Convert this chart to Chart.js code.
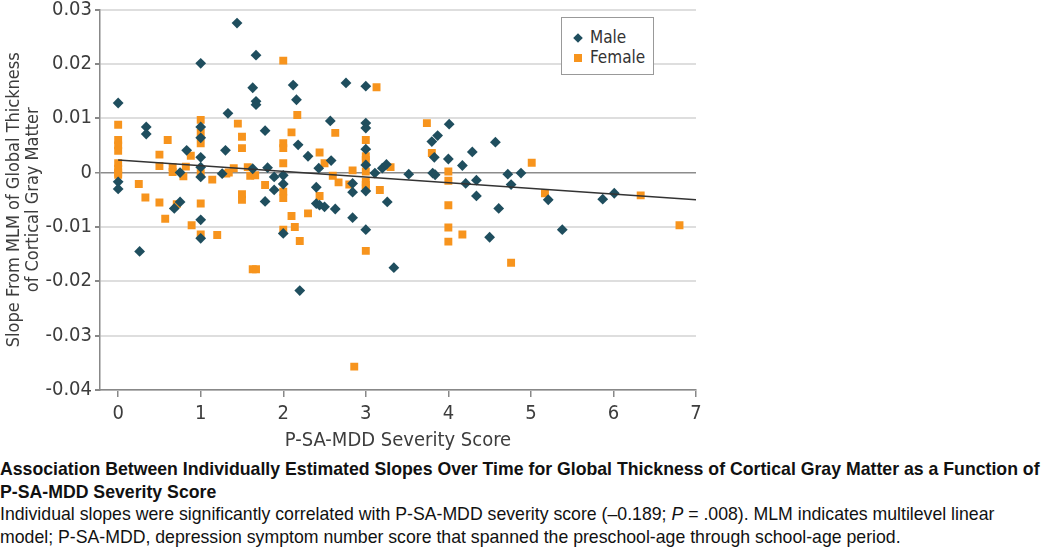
<!DOCTYPE html>
<html>
<head>
<meta charset="utf-8">
<script src="https://cdn.jsdelivr.net/npm/chart.js@4.4.1/dist/chart.umd.min.js"></script>
<style>
body{margin:0;background:#fff;width:1050px;height:551px;overflow:hidden;position:relative;}
#wrap{position:absolute;left:0;top:-2px;width:720px;height:455px;}
#legend{position:absolute;left:561px;top:17px;width:91px;height:56px;border:1.5px solid #999;background:#fff;
  font-family:'DejaVu Sans Condensed','DejaVu Sans',sans-serif;font-size:17px;color:#333;}
.item{position:absolute;left:12px;height:20px;line-height:20px;white-space:nowrap;}
.mk{display:inline-block;width:8px;height:8px;margin-right:8px;vertical-align:1px;}
.cap{position:absolute;left:0;top:458px;width:1050px;font-family:'Liberation Sans',Arial,sans-serif;
  font-size:17.7px;line-height:22.5px;color:#111;white-space:nowrap;}
</style>
</head>
<body>
<div id="wrap"><canvas id="chart"></canvas></div>
<div id="legend"></div>
<div class="cap"><b>Association Between Individually Estimated Slopes Over Time for Global Thickness of Cortical Gray Matter as a Function of<br>P-SA-MDD Severity Score</b><br>Individual slopes were significantly correlated with P-SA-MDD severity score (–0.189; <i>P</i> = .008). MLM indicates multilevel linear<br>model; P-SA-MDD, depression symptom number score that spanned the preschool-age through school-age period.</div>
<script>
// values
const maleX=[0,0,0,0.26,0.34,0.34,0.68,0.75,0.75,0.83,
  1,1,1,1,1,1,1,1,1.26,1.30,1.33,1.44,1.63,1.63,1.67,1.67,1.67,1.78,1.78,1.81,1.89,1.89,
  2,2,2,2.12,2.16,2.18,2.20,2.30,2.40,2.40,2.43,2.44,2.50,2.57,2.58,2.63,2.76,2.84,2.84,2.84,
  3,3,3,3,3,3,3,3.11,3.20,3.25,3.26,3.34,3.52,3.80,3.87,3.83,3.81,3.84,
  4.01,4.0,4.17,4.21,4.29,4.34,4.34,4.57,4.50,4.61,4.72,4.76,4.88,5.21,5.38,5.87,6.01];
const maleY=[0.0128,-0.0017,-0.0030,-0.0145,0.0084,0.0071,-0.0066,-0.0054,0.0000,0.0041,
  0.0201,0.0084,0.0064,0.0028,0.0010,-0.0008,-0.0087,-0.0121,-0.0002,0.0041,0.0109,0.0275,0.0156,0.0007,0.0216,0.0131,0.0125,0.0077,-0.0053,0.0009,-0.0008,-0.0032,
  -0.0005,-0.0021,-0.0112,0.0161,0.0134,0.0051,-0.0217,0.0030,-0.0027,-0.0057,0.0008,-0.0060,-0.0063,0.0095,0.0022,-0.0067,0.0165,-0.0020,-0.0036,-0.0083,
  0.0159,0.0091,0.0082,0.0043,0.0014,-0.0034,-0.0105,-0.0001,0.0008,0.0015,-0.0054,-0.0175,-0.0003,0.0057,0.0068,0.0028,-0.0001,-0.0004,
  0.0089,0.0025,0.0013,-0.0020,0.0038,-0.0014,-0.0043,0.0056,-0.0119,-0.0066,-0.0003,-0.0022,-0.0001,-0.0050,-0.0105,-0.0049,-0.0038];
const femaleX=[0,0,0,0,0,0,0,0,0.25,0.33,0.50,0.50,0.50,0.57,0.60,0.66,0.66,0.71,0.79,0.82,0.88,0.89,
  1,1,1,1,1,1,1.14,1.20,1.31,1.34,1.40,1.45,1.50,1.50,1.50,1.50,1.57,1.60,1.66,1.63,1.67,1.78,
  2,2,2,2,2,2,2,2.10,2.17,2.10,2.14,2.20,2.30,2.44,2.44,2.50,2.60,2.63,2.67,2.80,2.84,2.86,
  3,3,3,3,3,3,3,3,3.13,3.17,3.30,3.74,3.80,4,4,4,4,4,4.17,4.76,5.01,5.17,6.33,6.80];
const femaleY=[0.0088,0.0060,0.0050,0.0040,0.0017,0.0007,0.0000,-0.0004,-0.0021,-0.0046,0.0033,0.0012,-0.0055,-0.0085,0.0060,0.0010,0.0001,-0.0058,-0.0007,0.0011,0.0031,-0.0097,
  0.0097,0.0073,0.0054,-0.0001,-0.0057,-0.0114,-0.0013,-0.0115,-0.0002,0.0000,0.0008,0.0090,0.0066,0.0045,-0.0040,-0.0050,0.0010,-0.0006,-0.0005,-0.0178,-0.0178,-0.0023,
  0.0206,0.0054,0.0045,0.0017,-0.0035,-0.0047,-0.0105,0.0074,0.0106,-0.0080,-0.0100,-0.0126,-0.0075,0.0037,-0.0043,0.0017,-0.0006,0.0073,-0.0018,-0.0022,0.0004,-0.0357,
  0.0060,0.0030,0.0023,0.0002,-0.0017,-0.0023,-0.0029,-0.0144,0.0157,-0.0032,0.0010,0.0091,0.0036,0.0002,-0.0015,-0.0060,-0.0101,-0.0127,-0.0114,-0.0166,0.0018,-0.0038,-0.0042,-0.0097];
const fitX=[0,7];
const fitY=[0.0023,-0.0050];
const seriesNames=['Male','Female'];
const seriesColors=['#1f4e5e','#f7941d'];
const xTicks=[0,1,2,3,4,5,6,7];
const yTicks=[0.03,0.02,0.01,0,-0.01,-0.02,-0.03,-0.04];
const yTickLabels=['0.03','0.02','0.01','0','-0.01','-0.02','-0.03','-0.04'];

const pts=(xs,ys)=>xs.map((x,i)=>({x:x,y:ys[i]}));

document.getElementById('legend').innerHTML=seriesNames.map((n,i)=>
  '<div class="item" style="top:'+(9+i*20)+'px"><span class="mk" style="background:'+seriesColors[i]+
  (i==0?';transform:rotate(45deg) scale(0.85)':'')+'"></span>'+n+'</div>').join('');

Chart.defaults.font.family="'DejaVu Sans Condensed','DejaVu Sans',sans-serif";
Chart.defaults.color='#3d3d3d';

const ctx=document.getElementById('chart').getContext('2d');
let chart=new Chart(ctx,{
  type:'scatter',
  data:{
    datasets:[
      {label:'fit',data:pts(fitX,fitY),showLine:true,pointRadius:0,borderColor:'#333',borderWidth:1.5,order:0},
      {label:seriesNames[0],data:pts(maleX,maleY),pointStyle:'rectRot',pointRadius:5.4,
        backgroundColor:seriesColors[0],borderWidth:0,order:1},
      {label:seriesNames[1],data:pts(femaleX,femaleY),pointStyle:'rect',pointRadius:5.6,
        backgroundColor:seriesColors[1],borderWidth:0,order:2}
    ]
  },
  options:{
    responsive:true,
    maintainAspectRatio:false,
    animation:false,
    layout:{padding:{top:0,right:24,left:0,bottom:0}},
    plugins:{legend:{display:false},tooltip:{enabled:false}},
    scales:{
      x:{
        type:'linear',min:-0.22,max:7,
        afterBuildTicks:s=>{s.ticks=xTicks.map(v=>({value:v}));},
        afterFit:s=>{s.height=63;},
        ticks:{font:{size:20},padding:5,callback:v=>String(v)},
        grid:{drawOnChartArea:false,drawTicks:true,tickLength:7,color:'#888',lineWidth:1.5},
        border:{color:'#888',width:1.5},
        title:{display:true,text:'P-SA-MDD Severity Score',font:{size:20},padding:{top:0,bottom:0}}
      },
      y:{
        min:-0.04,max:0.03,
        afterBuildTicks:s=>{s.ticks=yTicks.map(v=>({value:v}));},
        afterFit:s=>{s.width=100;},
        ticks:{font:{size:20,lineHeight:0.85},padding:3,callback:(v,i)=>yTickLabels[yTicks.findIndex(t=>Math.abs(t-v)<1e-9)]},
        grid:{color:c=>(c.tick&&Math.abs(c.tick.value)<1e-9)?'#8c8c8c':'#dedede',
              lineWidth:c=>(c.tick&&Math.abs(c.tick.value)<1e-9)?1.5:2,
              tickColor:'#888',tickLength:5},
        border:{color:'#888',width:1.5},
        title:{display:true,text:['Slope From MLM of Global Thickness','of Cortical Gray Matter'],
               font:{size:18,lineHeight:1.1},padding:{top:4,bottom:2}}
      }
    }
  }
});
</script>
</body>
</html>
